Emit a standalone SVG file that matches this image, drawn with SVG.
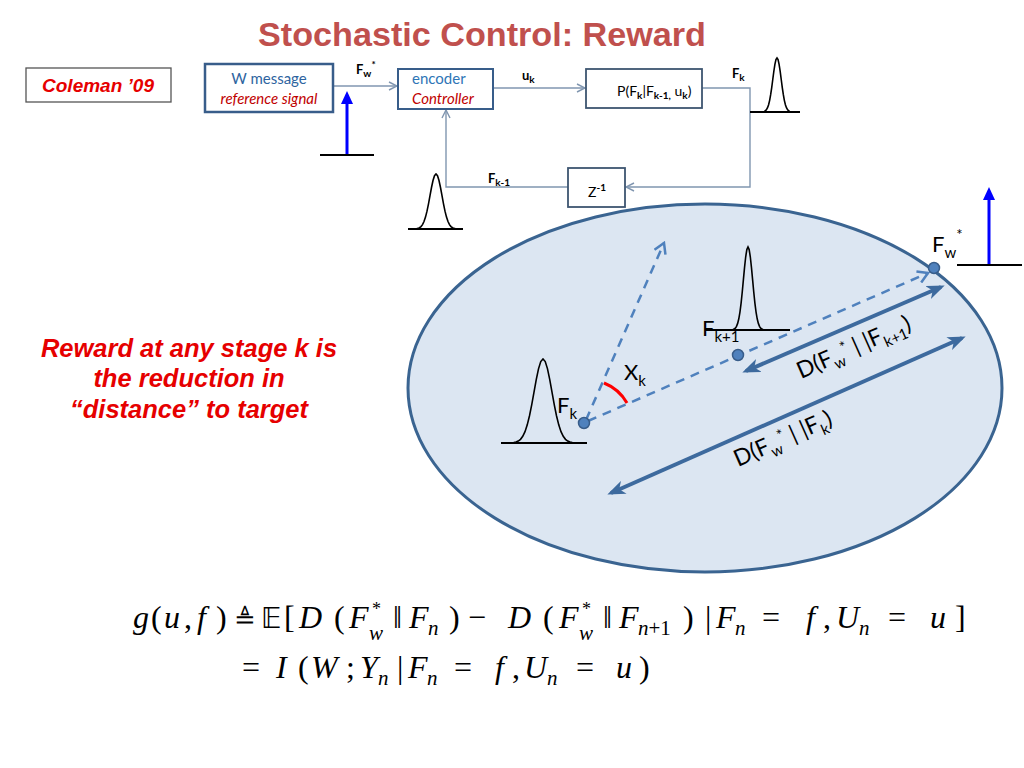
<svg xmlns="http://www.w3.org/2000/svg" xmlns:xlink="http://www.w3.org/1999/xlink" width="1024" height="768" viewBox="0 0 1024 768">
<defs>
<style>
.title{font-family:"Liberation Sans",Arial,sans-serif;font-weight:bold;font-size:33px;fill:#c0504d}
.red{font-family:"Liberation Sans",Arial,sans-serif;font-weight:bold;font-style:italic;fill:#e60000}
.lbl{font-family:Lato,"Open Sans",sans-serif;font-size:15px;fill:#000}
.sm{font-size:10px}
.b{font-weight:bold}
.box{fill:#fff;stroke:#3d5570;stroke-width:1.8}
.conn{fill:none;stroke:#8096b0;stroke-width:1.4}
.base{stroke:#000;stroke-width:2}
.m{font-family:"Liberation Serif","Times New Roman",serif;font-size:32px;fill:#000}
.i{font-style:italic}
.s{font-size:21px}
.st{font-size:18px}
.el{font-family:Lato,"Open Sans",sans-serif;font-size:22px;fill:#000}
.dl{font-family:Lato,"Open Sans",sans-serif;font-size:23px;fill:#000}
.es{font-size:15px}
.dash{fill:none;stroke:#4f81bd;stroke-width:2.5;stroke-dasharray:9 7}
.dbl{fill:none;stroke:#3d6a9e;stroke-width:4}
.dot{fill:#4f81bd;stroke:#385d8a;stroke-width:1.5}
.blue{stroke:#0000ff;stroke-width:3}
</style>
<marker id="open" markerUnits="userSpaceOnUse" viewBox="0 0 10 10" refX="9" refY="5" markerWidth="10" markerHeight="10" orient="auto"><path d="M1,1 L9,5 L1,9" fill="none" stroke="#8096b0" stroke-width="1.4"/></marker>
<marker id="dashHead" markerUnits="userSpaceOnUse" viewBox="0 0 14 14" refX="12" refY="7" markerWidth="14" markerHeight="14" orient="auto"><path d="M2,1 L12,7 L2,13" fill="none" stroke="#4f81bd" stroke-width="2.5"/></marker>
<marker id="solidHead" markerUnits="userSpaceOnUse" viewBox="0 0 18 14" refX="14" refY="7" markerWidth="18" markerHeight="14" orient="auto-start-reverse"><path d="M0,0 L18,7 L0,14 L5,7 Z" fill="#3d6a9e"/></marker>
<path id="bell" fill="none" stroke="#000" stroke-width="1.6" vector-effect="non-scaling-stroke" d="M-3.5,-.0022 L-3.25,-.0051 L-3,-.0111 L-2.75,-.0228 L-2.5,-.0439 L-2.25,-.0796 L-2,-.1353 L-1.75,-.2163 L-1.5,-.3247 L-1.25,-.4578 L-1,-.6065 L-.75,-.7548 L-.5,-.8825 L-.25,-.9692 L0,-1 L.25,-.9692 L.5,-.8825 L.75,-.7548 L1,-.6065 L1.25,-.4578 L1.5,-.3247 L1.75,-.2163 L2,-.1353 L2.25,-.0796 L2.5,-.0439 L2.75,-.0228 L3,-.0111 L3.25,-.0051 L3.5,-.0022"/>
</defs>
<rect width="1024" height="768" fill="#fff"/>

<text class="title" x="482" y="46" text-anchor="middle" textLength="448" lengthAdjust="spacingAndGlyphs">Stochastic Control: Reward</text>

<g id="coleman">
<rect x="26" y="68" width="145" height="34" fill="#fff" stroke="#555" stroke-width="1.3"/>
<text class="red" x="98" y="92" font-size="19" text-anchor="middle">Coleman ’09</text>
</g>

<g id="reward-note">
<text class="red" font-size="25.5" text-anchor="middle" x="189"><tspan x="189" y="357">Reward at any stage k is</tspan><tspan x="189" y="387">the reduction in</tspan><tspan x="189" y="418">“distance” to target</tspan></text>
</g>

<g id="connectors">
<line class="conn" x1="333" y1="86" x2="397" y2="86" marker-end="url(#open)"/>
<line class="conn" x1="493" y1="88" x2="585" y2="88" marker-end="url(#open)"/>
<polyline class="conn" points="702,88 750,88 750,187 626,187" marker-end="url(#open)"/>
<polyline class="conn" points="568,187 446,187 446,110" marker-end="url(#open)"/>
</g>

<g id="w-message">
<rect x="205" y="64" width="128" height="48" fill="#fff" stroke="#385d8a" stroke-width="2.5"/>
<text class="lbl" x="269" y="84" text-anchor="middle" style="fill:#2e64a0">W message</text>
<text class="lbl i" x="269" y="104" text-anchor="middle" style="fill:#c00000">reference signal</text>
</g>

<g id="encoder">
<rect x="398" y="69" width="95" height="40" fill="#fff" stroke="#385d8a" stroke-width="2"/>
<text class="lbl" x="412" y="84" style="fill:#2e75b6">encoder</text>
<text class="lbl i" x="412" y="104" style="fill:#c00000">Controller</text>
</g>

<g id="channel">
<rect class="box" x="586" y="69" width="116" height="39"/>
<text class="lbl" x="617" y="96" style="font-size:14px">P(F<tspan class="b sm" dy="3">k</tspan><tspan dy="-3">|F</tspan><tspan class="b sm" dy="3">k-1,</tspan><tspan dy="-3"> u</tspan><tspan class="b sm" dy="3">k</tspan><tspan dy="-3">)</tspan></text>
</g>

<g id="delay">
<rect class="box" x="568" y="168" width="57" height="39"/>
<text class="lbl" x="588" y="197" style="font-size:14px">Z<tspan class="b sm" dy="-6">-1</tspan></text>
</g>

<g id="signal-labels">
<text class="lbl b" x="356" y="74" style="font-size:13px">F<tspan class="sm" dy="3">w</tspan><tspan class="sm" dy="-9">*</tspan></text>
<text class="lbl b" x="522" y="80" style="font-size:13px">u<tspan class="sm" dy="3">k</tspan></text>
<text class="lbl b" x="732" y="78" style="font-size:13px">F<tspan class="sm" dy="3">k</tspan></text>
<text class="lbl b" x="488" y="183" style="font-size:13px">F<tspan class="sm" dy="3">k-1</tspan></text>
</g>

<g id="target-delta-left">
<line class="base" x1="320" y1="155" x2="374" y2="155"/>
<line class="blue" x1="347" y1="154" x2="347" y2="102"/>
<polygon points="347,91 341,104 353,104" fill="#0000ff"/>
</g>

<g id="bell-fk-top">
<line class="base" x1="750" y1="112" x2="800" y2="112"/>
<use xlink:href="#bell" href="#bell" transform="translate(777,112) scale(4.2,54)"/>
</g>
<g id="bell-fk1-top">
<line class="base" x1="408" y1="229" x2="463" y2="229"/>
<use xlink:href="#bell" href="#bell" transform="translate(436,229) scale(6,55)"/>
</g>

<g id="belief-space">
<ellipse cx="705" cy="388" rx="297" ry="184" fill="#dce6f2" stroke="#3a6491" stroke-width="3"/>
</g>

<g id="bell-fk">
<line class="base" x1="501" y1="443" x2="587" y2="443"/>
<use xlink:href="#bell" href="#bell" transform="translate(543,443) scale(9,84)"/>
<text class="el" x="557" y="413">F<tspan class="es" dy="6">k</tspan></text>
</g>
<g id="bell-fk-next">
<line class="base" x1="705" y1="330" x2="790" y2="330"/>
<use xlink:href="#bell" href="#bell" transform="translate(748,330) scale(4.6,83)"/>
<text class="el" x="702" y="336">F<tspan class="es" dy="6">k+1</tspan></text>
</g>

<g id="space-connectors">
<line class="dash" x1="586" y1="420" x2="664" y2="243" marker-end="url(#dashHead)"/>
<line class="dash" x1="588" y1="421" x2="928" y2="273" marker-end="url(#dashHead)"/>
<line class="dbl" x1="746" y1="371" x2="941" y2="287" marker-start="url(#solidHead)" marker-end="url(#solidHead)"/>
<line class="dbl" x1="611" y1="493" x2="962" y2="338" marker-start="url(#solidHead)" marker-end="url(#solidHead)"/>
<path d="M604,383 A46,46 0 0 1 627,403" fill="none" stroke="#ff0000" stroke-width="3"/>
</g>

<g id="points">
<circle class="dot" cx="584" cy="423" r="5.5"/>
<circle class="dot" cx="738" cy="355" r="5.5"/>
<circle class="dot" cx="934" cy="268" r="5.5"/>
</g>

<g id="space-labels">
<text class="el" x="624" y="380">X<tspan class="es" dy="6">k</tspan></text>
<text class="el" x="932" y="252">F<tspan class="es" dy="6">w</tspan><tspan class="es" dy="-18">*</tspan></text>
<text class="dl" transform="translate(801,379) rotate(-24)">D(F<tspan class="es" dy="6">w</tspan><tspan class="es" dy="-13">*</tspan><tspan dy="7"> | |F</tspan><tspan class="es" dy="6">k+1</tspan><tspan dy="-6">)</tspan></text>
<text class="dl" transform="translate(738,467) rotate(-24)">D(F<tspan class="es" dy="6">w</tspan><tspan class="es" dy="-13">*</tspan><tspan dy="7"> | |F</tspan><tspan class="es" dy="6">k</tspan><tspan dy="-6">)</tspan></text>
</g>

<g id="target-delta-right">
<line class="base" x1="957" y1="265" x2="1022" y2="265"/>
<line class="blue" x1="989" y1="264" x2="989" y2="199"/>
<polygon points="989,187 983,200 995,200" fill="#0000ff"/>
</g>

<g id="formula">
<text class="m i" x="133" y="628">g</text>
<text class="m" x="151" y="628">(</text>
<text class="m i" x="164" y="628">u</text>
<text class="m" x="184" y="628">,</text>
<text class="m i" x="197" y="628">f</text>
<text class="m" x="216" y="628">)</text>
<text class="m" x="234" y="628" style="font-family:'DejaVu Serif',serif;font-size:26px">≜</text>
<text class="m" x="261" y="628" style="font-family:'DejaVu Sans','DejaVu Serif',sans-serif;font-size:28px">𝔼</text>
<text class="m" x="284" y="628">[</text>
<text class="m i" x="299" y="628">D</text>
<text class="m" x="334" y="628">(</text>
<text class="m i" x="349" y="628">F</text>
<text class="m st" x="372" y="615">*</text>
<text class="m s i" x="369" y="640">w</text>
<text class="m" x="393" y="628">‖</text>
<text class="m i" x="409" y="628">F</text>
<text class="m s i" x="428" y="635">n</text>
<text class="m" x="449" y="628">)</text>
<text class="m" x="468" y="628">−</text>
<text class="m i" x="508" y="628">D</text>
<text class="m" x="543" y="628">(</text>
<text class="m i" x="559" y="628">F</text>
<text class="m st" x="582" y="615">*</text>
<text class="m s i" x="579" y="640">w</text>
<text class="m" x="603" y="628">‖</text>
<text class="m i" x="619" y="628">F</text>
<text class="m s" x="638" y="635"><tspan class="i">n</tspan>+1</text>
<text class="m" x="683" y="628">)</text>
<text class="m" x="705" y="628">|</text>
<text class="m i" x="716" y="628">F</text>
<text class="m s i" x="735" y="635">n</text>
<text class="m" x="762" y="628">=</text>
<text class="m i" x="806" y="628">f</text>
<text class="m" x="823" y="628">,</text>
<text class="m i" x="836" y="628">U</text>
<text class="m s i" x="859" y="635">n</text>
<text class="m" x="888" y="628">=</text>
<text class="m i" x="930" y="628">u</text>
<text class="m" x="955" y="628">]</text>

<text class="m" x="242" y="678">=</text>
<text class="m i" x="276" y="678">I</text>
<text class="m" x="298" y="678">(</text>
<text class="m i" x="311" y="678">W</text>
<text class="m" x="346" y="678">;</text>
<text class="m i" x="360" y="678">Y</text>
<text class="m s i" x="378" y="685">n</text>
<text class="m" x="397" y="678">|</text>
<text class="m i" x="408" y="678">F</text>
<text class="m s i" x="427" y="685">n</text>
<text class="m" x="454" y="678">=</text>
<text class="m i" x="495" y="678">f</text>
<text class="m" x="512" y="678">,</text>
<text class="m i" x="524" y="678">U</text>
<text class="m s i" x="547" y="685">n</text>
<text class="m" x="576" y="678">=</text>
<text class="m i" x="616" y="678">u</text>
<text class="m" x="639" y="678">)</text>
</g>
</svg>
